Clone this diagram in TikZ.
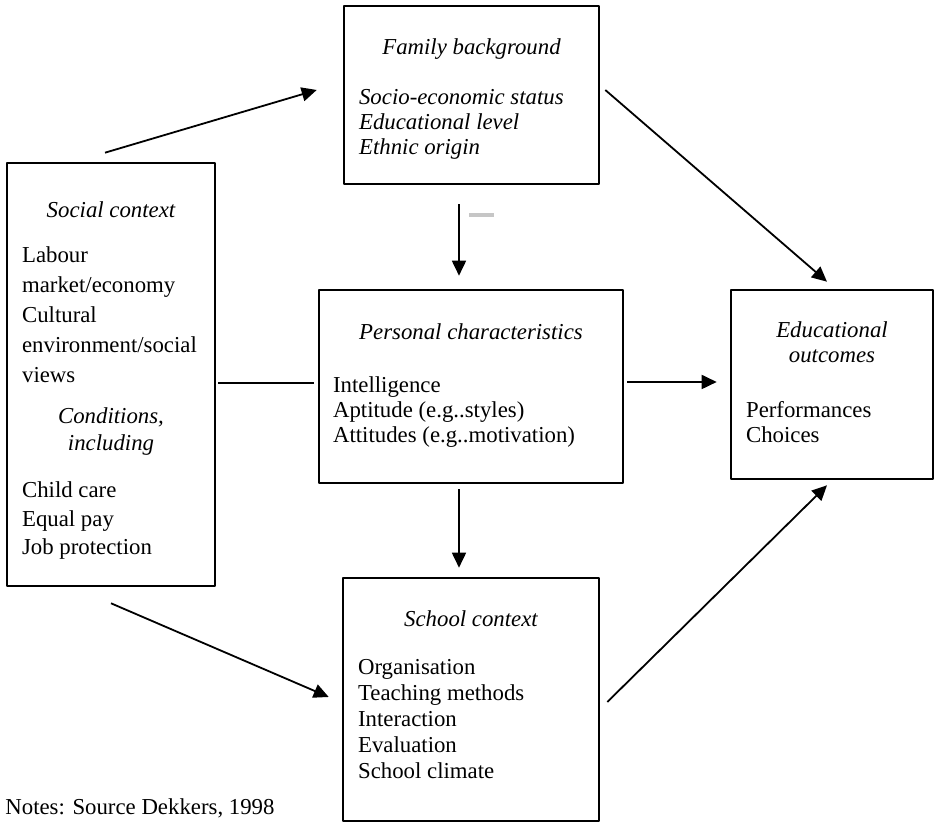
\documentclass[tikz,border=0pt]{standalone}
\usepackage{fontspec}
\setmainfont{Liberation Serif}
\usetikzlibrary{arrows.meta,positioning}
\newcommand{\figfont}{\fontsize{11.4}{12.5}\selectfont}
\begin{document}
\begin{tikzpicture}[x=0.5pt, y=-0.5pt, font=\figfont, line join=round,
	>={Triangle[length=7.5pt, width=7pt]},
	box/.style={draw, line width=1.3pt, inner sep=0pt},
	head/.style={font=\figfont\itshape, align=center, inner sep=0pt},
	list/.style={font=\figfont, align=left, inner sep=0pt},
	link/.style={line width=0.9pt}]
	\useasboundingbox (0,0) rectangle (934,822);
	% boxes
	\node[box, minimum width=104pt, minimum height=211.5pt] (social) at (111,374.5) {};
	\node[box, minimum width=127.5pt, minimum height=89pt] (family) at (471.5,95) {};
	\node[box, minimum width=152pt, minimum height=96.5pt] (personal) at (471,386.5) {};
	\node[box, minimum width=101pt, minimum height=94.5pt] (outcomes) at (832,384.5) {};
	\node[box, minimum width=128pt, minimum height=121.5pt] (school) at (471,699.5) {};
	% texts
	\node[head, below=20pt of social.north] (socialhead) {Social context};
	\node[list, font=\fontsize{11.4}{15}\selectfont, below right=42.5pt and 8pt of social.north west] (sociallist) {Labour\\market/economy\\Cultural\\environment/social\\views};
	\node[head, font=\fontsize{11.4}{13.5}\selectfont\itshape, below=123pt of social.north] (conditions) {Conditions,\\including};
	\node[list, font=\fontsize{11.4}{14.25}\selectfont, below right=160pt and 8pt of social.north west] (conditionslist) {Child care\\Equal pay\\Job protection};
	\node[head, below=17pt of family.north] (familyhead) {Family background};
	\node[list, font=\figfont\itshape, below right=42pt and 8pt of family.north west] (familylist) {Socio-economic status\\Educational level\\Ethnic origin};
	\node[head, below=17.5pt of personal.north] (personalhead) {Personal characteristics};
	\node[list, below right=44pt and 7.5pt of personal.north west] (personallist) {Intelligence\\Aptitude (e.g..styles)\\Attitudes (e.g..motivation)};
	\node[head, below=16.5pt of outcomes.north] (outcomeshead) {Educational\\outcomes};
	\node[list, below right=56pt and 8pt of outcomes.north west] (outcomeslist) {Performances\\Choices};
	\node[head, below=17pt of school.north] (schoolhead) {School context};
	\node[list, font=\fontsize{11.4}{13}\selectfont, below right=41pt and 8pt of school.north west] (schoollist) {Organisation\\Teaching methods\\Interaction\\Evaluation\\School climate};
	\node[anchor=base west, inner sep=0pt] (notes) at (5,815) {Notes: Source Dekkers, 1998};
	% connectors
	\draw[link, ->] ([shift={(-6,-9)}]social.north) -- ([shift={(-26,-5)}]family.west);
	\draw[link, ->] ([shift={(5,-5)}]family.east) -- ([shift={(-5,-7)}]outcomes.north);
	\draw[link, ->] ([shift={(-12.5,19)}]family.south) -- ([shift={(-12,-13)}]personal.north);
	\draw[gray!45, line width=2pt] ([shift={(-2.5,30)}]family.south) -- ++(25,0);
	\draw[link] ([shift={(2,8.5)}]social.east) -- ([shift={(-4,-3.5)}]personal.west);
	\draw[link, ->] ([shift={(3,-4.5)}]personal.east) -- ([shift={(-13,-2.5)}]outcomes.west);
	\draw[link, ->] ([shift={(-12,5)}]personal.south) -- ([shift={(-12,-9)}]school.north);
	\draw[link, ->] ([shift={(0,16)}]social.south) -- ([shift={(-13,-2.5)}]school.west);
	\draw[link, ->] ([shift={(7,2.5)}]school.east) -- ([shift={(-5,5)}]outcomes.south);
\end{tikzpicture}
\end{document}
